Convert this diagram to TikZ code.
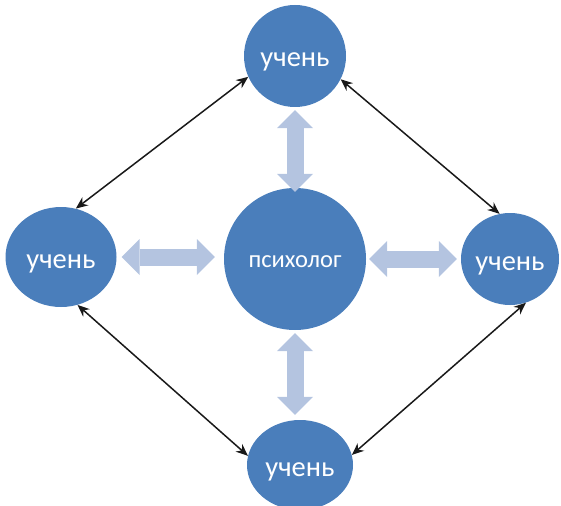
\documentclass[tikz,border=0pt]{standalone}
\usepackage{fontspec}
\setmainfont{Carlito}
\usetikzlibrary{shapes.geometric,arrows.meta}
\definecolor{nodeblue}{RGB}{74,126,187}
\definecolor{arrowblue}{RGB}{180,196,224}
\definecolor{linedark}{RGB}{25,25,25}

\begin{document}
\begin{tikzpicture}[x=1pt, y=-1pt,
    pupil/.style={ellipse, fill=nodeblue, text=white, inner sep=0pt,
                  text height=22pt, text depth=0pt,
                  font=\fontsize{28.5}{30}\selectfont},
    psych/.style={circle, fill=nodeblue, text=white, inner sep=0pt,
                  text height=16pt, text depth=0pt,
                  minimum size=142pt, font=\fontsize{24.5}{26}\selectfont},
    wide/.style={draw=arrowblue, line width=17pt,
                 {Triangle[length=18pt,width=36pt,line width=0pt]}-{Triangle[length=18pt,width=36pt,line width=0pt]}},
    link/.style={draw=linedark, line width=1.5pt,
                 {Stealth[length=12pt,width=10pt]}-{Stealth[length=12pt,width=10pt]}}
]
    \useasboundingbox (0,0) rectangle (561,505);

    \node[psych] (psy) at (295,259) {психолог};
    \node[pupil, minimum width=102pt, minimum height=102pt] (uTop)   at (295,56)  {учень};
    \node[pupil, minimum width=111pt, minimum height=100pt] (uLeft)  at (61,257)  {учень};
    \node[pupil, minimum width=98pt,  minimum height=92pt]  (uRight) at (510,259) {учень};
    \node[pupil, minimum width=106pt, minimum height=90pt]  (uBot)   at (300,465) {учень};

    % block arrows to the psychologist
    \draw[wide, shorten <=3pt, shorten >=-4pt] (uTop.south) -- (uTop.south |- psy.north);
    \draw[wide, shorten <=3pt, shorten >=5pt] (psy.south) -- (psy.south |- uBot.north);
    \draw[wide, shorten <=5pt, shorten >=9pt] (uLeft.east) -- (uLeft.east -| psy.west);
    \draw[wide, shorten <=3pt, shorten >=4pt] (psy.east) -- (psy.east -| uRight.west);

    % links between pupils
    \draw[link] (uTop.204) -- (uLeft.73);
    \draw[link] (uTop.333) -- (uRight.103);
    \draw[link] (uRight.290) -- (uBot.11);
    \draw[link] (uLeft.289) -- (uBot.170);
\end{tikzpicture}
\end{document}
